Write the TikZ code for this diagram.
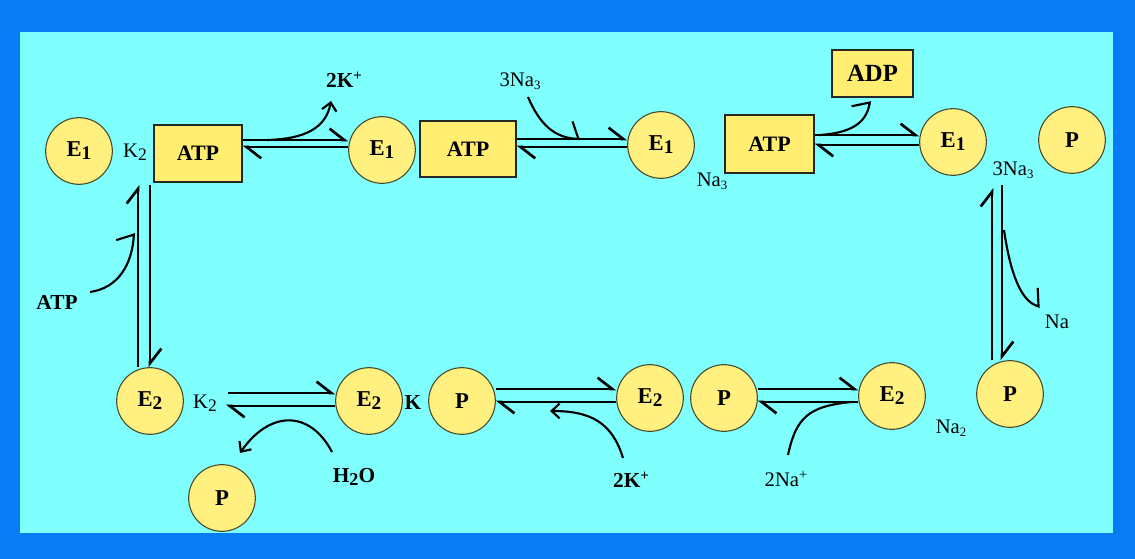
\documentclass[tikz,border=0pt]{standalone}
\usepackage{fontspec}
\usepackage{graphicx}
\setmainfont{Liberation Serif}
\usetikzlibrary{arrows.meta,calc}
\definecolor{outerblue}{RGB}{8,124,245}
\definecolor{innercyan}{RGB}{128,255,255}
\definecolor{circfill}{RGB}{255,240,128}
\definecolor{boxfill}{RGB}{255,238,112}
\definecolor{circline}{RGB}{70,70,40}
\newcommand{\bsub}[1]{\raisebox{-0.3ex}{\scalebox{0.85}{#1}}}
\newcommand{\ssub}[1]{\raisebox{-0.35ex}{\scalebox{0.62}{#1}}}
\newcommand{\ssup}[1]{\raisebox{0.75ex}{\scalebox{0.7}{#1}}}
\begin{document}
\begin{tikzpicture}[x=0.75pt,y=-0.75pt,
  enz/.style={circle, draw=circline, line width=0.8pt, fill=circfill,
    minimum size=50pt, inner sep=0pt, font=\bfseries\fontsize{17}{20}\selectfont},
  bx/.style={rectangle, draw=black!85, line width=1pt, fill=boxfill,
    inner sep=0pt, font=\bfseries\fontsize{16.5}{19}\selectfont},
  lab/.style={inner sep=0pt, font=\fontsize{15.5}{17}\selectfont},
  blab/.style={inner sep=0pt, font=\bfseries\fontsize{16}{18}\selectfont},
  rx/.style={line width=2pt, -{Straight Barb[left,length=11pt,width=17pt]}},
  cv/.style={line width=1.6pt},
  ch/.style={cv, -{Straight Barb[left,length=5pt,width=26pt]}},
  ca/.style={cv, -{Straight Barb[length=6pt,width=11pt]}}
]
\fill[outerblue] (0,0) rectangle (1135,559);
\fill[innercyan] (20,32) rectangle (1113,533);

% top row
\node[enz] (e1a) at (79,151) {E\bsub{1}};
\node[lab] (k2a) at (135,152) {K\bsub{2}};
\node[bx, minimum width=66pt, minimum height=42.75pt] (atp1) at (198,153.5) {ATP};
\node[enz] (e1b) at (382,150) {E\bsub{1}};
\node[bx, minimum width=72pt, minimum height=42pt] (atp2) at (468,149) {ATP};
\node[enz] (e1c) at (661,145) {E\bsub{1}};
\node[lab] (na3a) at (712,181) {Na\ssub{3}};
\node[bx, minimum width=66.75pt, minimum height=43.5pt] (atp3) at (769.5,144) {ATP};
\node[bx, minimum width=60.75pt, minimum height=35.25pt, font=\bfseries\fontsize{18.5}{20}\selectfont] (adp) at (872.5,73.5) {ADP};
\node[enz] (e1d) at (953,142) {E\bsub{1}};
\node[enz] (ptr) at (1072,140) {P};
\node[lab] (na3b) at (1013,170) {3Na\ssub{3}};
\node[blab] (k2p) at (344,80) {2K\ssup{+}};
\node[lab] (na3c) at (520,81) {3Na\ssub{3}};

% bottom row
\node[enz] (e2a) at (150,401) {E\bsub{2}};
\node[lab] (k2b) at (205,403) {K\bsub{2}};
\node[enz] (e2b) at (369,401) {E\bsub{2}};
\node[blab] (kk) at (413,403) {K};
\node[enz] (pb1) at (462,401) {P};
\node[enz] (e2c) at (650,398) {E\bsub{2}};
\node[enz] (pb2) at (724,398) {P};
\node[enz] (e2d) at (892,396) {E\bsub{2}};
\node[lab] (na2) at (951,428) {Na\ssub{2}};
\node[enz] (pr) at (1010,394) {P};
\node[enz] (pbl) at (222,498) {P};
\node[blab] (h2o) at (354,477) {H\bsub{2}O};
\node[blab] (k2q) at (631,480) {2K\ssup{+}};
\node[lab] (na2p) at (786,479) {2Na\ssup{+}};
\node[lab] (nar) at (1057,322) {Na};
\node[blab] (atpl) at (57,302) {ATP};

% top reversible arrows
\draw[rx] (atp1.east |- 0,140) -- (e1b.west |- 0,140);
\draw[rx] (e1b.west |- 0,147) -- (atp1.east |- 0,147);
\draw[rx] (atp2.east |- 0,139) -- (e1c.west |- 0,139);
\draw[rx] (e1c.west |- 0,147) -- (atp2.east |- 0,147);
\draw[rx] (atp3.east |- 0,135) -- (e1d.west |- 0,135);
\draw[rx] (e1d.west |- 0,145) -- (atp3.east |- 0,145);

% right vertical
\coordinate (rvl) at (992,188);
\coordinate (rvr) at (1002,185);
\draw[rx] (pr.north -| rvl) -- (rvl);
\draw[rx] (rvr) -- (pr.north -| rvr);

% left vertical
\coordinate (lvl) at (138,185);
\coordinate (lvr) at (150,185);
\draw[rx] (e2a.north -| lvl) -- (lvl);
\draw[rx] (lvr) -- (e2a.north);

% bottom reversible arrows
\coordinate (k2u) at (228,393);
\coordinate (k2d) at (226,406);
\draw[rx] (k2u) -- (e2b.west |- k2u);
\draw[rx] (e2b.west |- k2d) -- (k2d);
\draw[rx] (pb1.east |- 0,389) -- (e2c.west |- 0,389);
\draw[rx] (e2c.west |- 0,402) -- (pb1.east |- 0,402);
\draw[rx] (pb2.east |- 0,389) -- (e2d.west |- 0,389);
\draw[rx] (e2d.west |- 0,402) -- (pb2.east |- 0,402);

% side curves
\coordinate (c1s) at (267,140);
\coordinate (c1e) at (331,101);
\draw[ca] (c1s) .. controls (305,139) and (326,128) .. (c1e);
\coordinate (c2s) at (528,97);
\coordinate (c2e) at (580,139);
\draw[ch] (c2s) .. controls (540,125) and (555,138) .. (c2e);
\coordinate (c3s) at (820,135);
\coordinate (c3e) at (870,101);
\draw[ch] (c3s) .. controls (848,133) and (866,125) .. (c3e);
\coordinate (c4s) at (1004,230);
\coordinate (c4e) at (1040,307);
\draw[ch] (c4s) .. controls (1012,285) and (1025,302) .. (c4e);
\coordinate (c5s) at (90,292);
\coordinate (c5e) at (134,233);
\draw[ch] (c5s) .. controls (118,288) and (132,265) .. (c5e);
\coordinate (c6s) at (332,452);
\coordinate (c6e) at (240,453);
\draw[ca] (c6s) .. controls (310,410) and (270,410) .. (c6e);
\coordinate (c7s) at (623,458);
\coordinate (c7e) at (550,411);
\draw[ca] (c7s) .. controls (612,422) and (590,411) .. (c7e);
\coordinate (c8s) at (788,455);
\coordinate (c8e) at (852,402);
\draw[cv] (c8s) .. controls (796,418) and (808,406) .. (c8e);
\end{tikzpicture}
\end{document}
